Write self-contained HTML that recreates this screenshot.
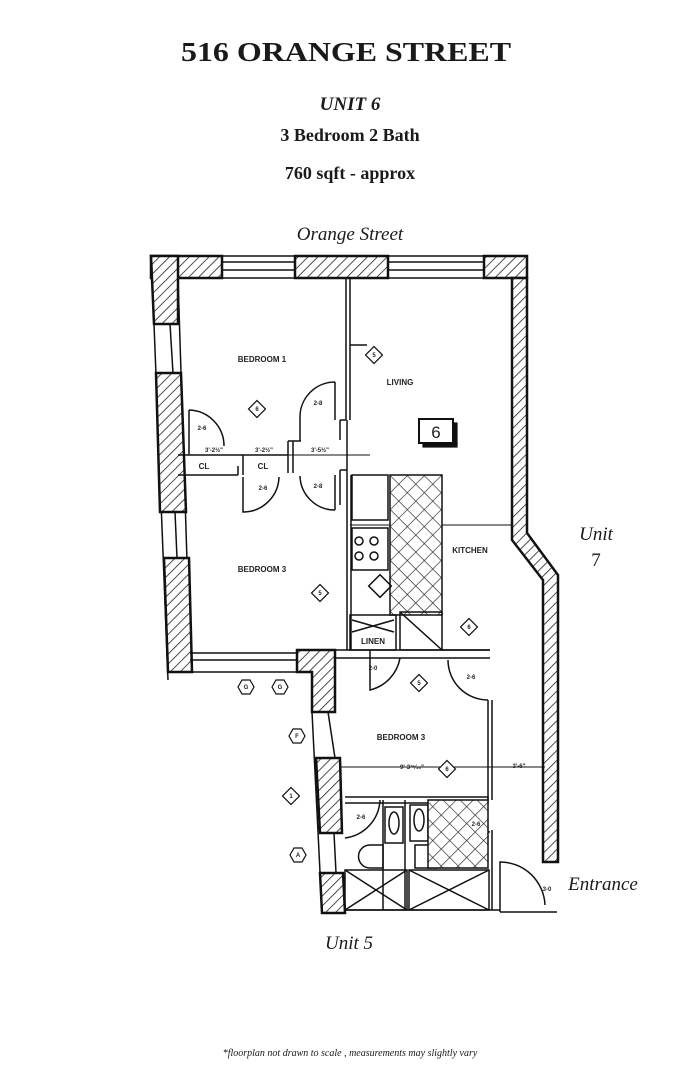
<!DOCTYPE html>
<html><head><meta charset="utf-8"><style>
html,body{margin:0;padding:0;background:#fff;}
svg{display:block}
</style></head><body>
<svg width="699" height="1080" viewBox="0 0 699 1080" xmlns="http://www.w3.org/2000/svg">
<defs>
<pattern id="h" patternUnits="userSpaceOnUse" width="7" height="7" patternTransform="rotate(45)">
<rect width="7" height="7" fill="#fff"/><line x1="0" y1="0" x2="0" y2="7" stroke="#222" stroke-width="1.6"/>
</pattern>
<pattern id="x" patternUnits="userSpaceOnUse" width="12" height="12" patternTransform="rotate(45)">
<rect width="12" height="12" fill="#fff"/><line x1="0" y1="0" x2="0" y2="12" stroke="#222" stroke-width="1.3"/><line x1="0" y1="0" x2="12" y2="0" stroke="#222" stroke-width="1.3"/>
</pattern>
</defs>
<g font-family="Liberation Serif, serif" fill="#1a1a1a" text-anchor="middle">
<text x="346" y="61" font-size="27" font-weight="bold" textLength="330" lengthAdjust="spacingAndGlyphs">516 ORANGE STREET</text>
<text x="350" y="110" font-size="19" font-weight="bold" font-style="italic">UNIT 6</text>
<text x="350" y="141" font-size="18" font-weight="bold">3 Bedroom 2 Bath</text>
<text x="350" y="179" font-size="18" font-weight="bold">760 sqft - approx</text>
<text x="350" y="240" font-size="19" font-style="italic">Orange Street</text>
<text x="596" y="540" font-size="19" font-style="italic">Unit</text>
<text x="596" y="566" font-size="19">7</text>
<text x="603" y="890" font-size="19" font-style="italic">Entrance</text>
<text x="349" y="949" font-size="19" font-style="italic">Unit 5</text>
<text x="350" y="1056" font-size="10" font-style="italic">*floorplan not drawn to scale , measurements may slightly vary</text>
</g>
<g stroke="#111" fill="none" stroke-width="1.5">
<line x1="151" y1="256" x2="527" y2="256"/>
<line x1="178" y1="278" x2="512" y2="278"/>
<line x1="222" y1="262" x2="295" y2="262"/><line x1="222" y1="270" x2="295" y2="270"/>
<line x1="388" y1="262" x2="484" y2="262"/><line x1="388" y1="270" x2="484" y2="270"/>
<rect x="151" y="256" width="71" height="22" fill="url(#h)" stroke-width="2.5"/>
<rect x="295" y="256" width="93" height="22" fill="url(#h)" stroke-width="2.5"/>
<rect x="484" y="256" width="43" height="22" fill="url(#h)" stroke-width="2.5"/>
<polygon points="151,256 178,256 178,324 154,324" fill="url(#h)" stroke-width="2.5"/>
<line x1="154" y1="324" x2="168" y2="680"/>
<line x1="178" y1="278" x2="190" y2="655"/>
<line x1="170" y1="324" x2="173" y2="373"/>
<polygon points="156,373 181,373 186,512 160,512" fill="url(#h)" stroke-width="2.5"/>
<line x1="175" y1="512" x2="177" y2="558"/>
<polygon points="164,558 189,558 192,672 168,672" fill="url(#h)" stroke-width="2.5"/>
<line x1="190" y1="653" x2="297" y2="653"/><line x1="190" y1="660" x2="297" y2="660"/>
<line x1="192" y1="672" x2="297" y2="672"/>
<polygon points="297,650 335,650 335,712 312,712 312,672 297,672" fill="url(#h)" stroke-width="2.5"/>
<line x1="312" y1="712" x2="322" y2="912"/>
<line x1="328" y1="712" x2="335" y2="758"/>
<polygon points="316,758 340,758 342,833 320,833" fill="url(#h)" stroke-width="2.5"/>
<line x1="334" y1="833" x2="336" y2="873"/>
<polygon points="320,873 343,873 345,913 322,913" fill="url(#h)" stroke-width="2.5"/>
<line x1="335" y1="650" x2="490" y2="650"/><line x1="335" y1="658" x2="490" y2="658"/>
<polygon points="512,278 527,278 527,533 558,575 558,862 543,862 543,580 512,540" fill="url(#h)" stroke-width="2.5"/>
<line x1="345" y1="910" x2="500" y2="910"/><line x1="500" y1="912" x2="557" y2="912"/>
<line x1="346" y1="278" x2="346" y2="420"/><line x1="350" y1="278" x2="350" y2="420"/>
<line x1="350" y1="345" x2="367" y2="345"/>
<line x1="178" y1="455" x2="288" y2="455"/>
<line x1="178" y1="475" x2="238" y2="475"/>
<line x1="288" y1="441" x2="288" y2="473"/><line x1="293" y1="441" x2="293" y2="473"/>
<line x1="238" y1="466" x2="238" y2="475"/><line x1="243" y1="455" x2="243" y2="475"/>
<line x1="288" y1="441" x2="301" y2="441"/>
<line x1="340" y1="420" x2="340" y2="440"/><line x1="340" y1="420" x2="346" y2="420"/>
<line x1="347" y1="420" x2="347" y2="650"/><line x1="351" y1="475" x2="351" y2="650"/>
<line x1="340" y1="470" x2="347" y2="470"/><line x1="340" y1="470" x2="340" y2="505"/>
<path d="M189,430 L189,455 M189,410 A36,36 0 0 1 224,446 M189,410 L189,430"/>
<path d="M335,382 A35,35 0 0 0 300,418 L300,441 M335,382 L335,420"/>
<path d="M243,477 L243,512 A36,36 0 0 0 279,477"/>
<path d="M335,510 A35,35 0 0 1 300,476 M335,475 L335,510"/>
<path d="M370,650 L370,690 A40,40 0 0 0 400,658"/>
<path d="M488,700 A40,40 0 0 1 448,660 M488,700 L488,800 M492,700 L492,800"/>
<path d="M345,838 A40,40 0 0 0 380,800"/>
<path d="M490,832 A55,55 0 0 1 445,800"/>
<path d="M500,912 L500,862 A45,45 0 0 1 545,905"/>
<line x1="180" y1="455" x2="370" y2="455" stroke-width="1"/>
<line x1="350" y1="525" x2="512" y2="525" stroke-width="1"/>
<line x1="340" y1="767" x2="545" y2="767" stroke-width="1"/>
<rect x="352" y="475" width="36" height="45"/>
<rect x="390" y="475" width="52" height="140" fill="url(#x)"/>
<rect x="352" y="528" width="36" height="42"/>
<circle cx="359" cy="541" r="4"/><circle cx="374" cy="541" r="4"/><circle cx="359" cy="556" r="4"/><circle cx="374" cy="556" r="4"/>
<rect x="372" y="578" width="16" height="16" transform="rotate(45 380 586)"/>
<rect x="350" y="615" width="46" height="35"/>
<path d="M352,620 L394,632 M352,632 L394,620"/>
<rect x="400" y="612" width="42" height="38"/><line x1="400" y1="612" x2="442" y2="650"/>
<line x1="442" y1="650" x2="490" y2="650"/>
<path d="M345,797 L488,797 L488,803 L345,803"/>
<line x1="383" y1="800" x2="383" y2="910"/><line x1="405" y1="800" x2="405" y2="910"/>
<rect x="385" y="807" width="18" height="36"/><ellipse cx="394" cy="823" rx="5" ry="11"/>
<rect x="410" y="805" width="18" height="36"/><ellipse cx="419" cy="820" rx="5" ry="11"/>
<path d="M370,845 L383,845 L383,868 L370,868 A11,11 0 0 1 370,845 Z"/>
<path d="M415,845 L437,845 L437,868 L415,868 Z"/>
<rect x="428" y="800" width="60" height="68" fill="url(#x)"/>
<rect x="345" y="870" width="62" height="40"/><rect x="409" y="870" width="80" height="40"/>
<path d="M345,870 L407,910 M345,910 L407,870 M409,870 L489,910 M409,910 L489,870"/>
<line x1="492" y1="830" x2="492" y2="910"/>
</g>
<g stroke="#111" fill="#fff" stroke-width="1.2">
<rect x="368" y="349" width="12" height="12" transform="rotate(45 374 355)"/>
<rect x="251" y="403" width="12" height="12" transform="rotate(45 257 409)"/>
<rect x="314" y="587" width="12" height="12" transform="rotate(45 320 593)"/>
<rect x="463" y="621" width="12" height="12" transform="rotate(45 469 627)"/>
<rect x="413" y="677" width="12" height="12" transform="rotate(45 419 683)"/>
<rect x="441" y="763" width="12" height="12" transform="rotate(45 447 769)"/>
<rect x="285" y="790" width="12" height="12" transform="rotate(45 291 796)"/>
<polygon points="238,687 242,680 250,680 254,687 250,694 242,694"/>
<polygon points="272,687 276,680 284,680 288,687 284,694 276,694"/>
<polygon points="289,736 293,729 301,729 305,736 301,743 293,743"/>
<polygon points="290,855 294,848 302,848 306,855 302,862 294,862"/>
<rect x="419" y="419" width="34" height="24" stroke-width="2"/>
<rect x="453" y="423" width="4" height="22" fill="#111"/>
<rect x="423" y="443" width="34" height="4" fill="#111"/>
</g>
<g font-family="Liberation Sans, sans-serif" font-weight="bold" fill="#222" font-size="8" text-anchor="middle">
<text x="262" y="362">BEDROOM 1</text>
<text x="400" y="385">LIVING</text>
<text x="262" y="572">BEDROOM 3</text>
<text x="470" y="553">KITCHEN</text>
<text x="401" y="740">BEDROOM 3</text>
<text x="373" y="644">LINEN</text>
<text x="204" y="469">CL</text><text x="263" y="469">CL</text>
<text x="436" y="438" font-size="17" font-weight="normal">6</text>
<g font-size="6">
<text x="202" y="430">2-6</text><text x="318" y="405">2-8</text><text x="263" y="490">2-6</text><text x="318" y="488">2-8</text>
<text x="373" y="670">2-0</text><text x="471" y="679">2-6</text><text x="361" y="819">2-6</text><text x="476" y="826">2-6</text><text x="547" y="891">3-0</text>
<text x="214" y="452">3'-2½"</text><text x="264" y="452">3'-2½"</text><text x="320" y="452">3'-5½"</text><text x="412" y="769">9'-3¹⁵⁄₁₆"</text><text x="519" y="768">3'-6"</text>
<text x="374" y="357">5</text><text x="257" y="411">6</text><text x="320" y="595">5</text><text x="469" y="629">6</text><text x="419" y="685">5</text><text x="447" y="771">6</text><text x="291" y="798">1</text>
<text x="246" y="689">G</text><text x="280" y="689">G</text><text x="297" y="738">F</text><text x="298" y="857">A</text>
</g>
</g>
</svg>
</body></html>
